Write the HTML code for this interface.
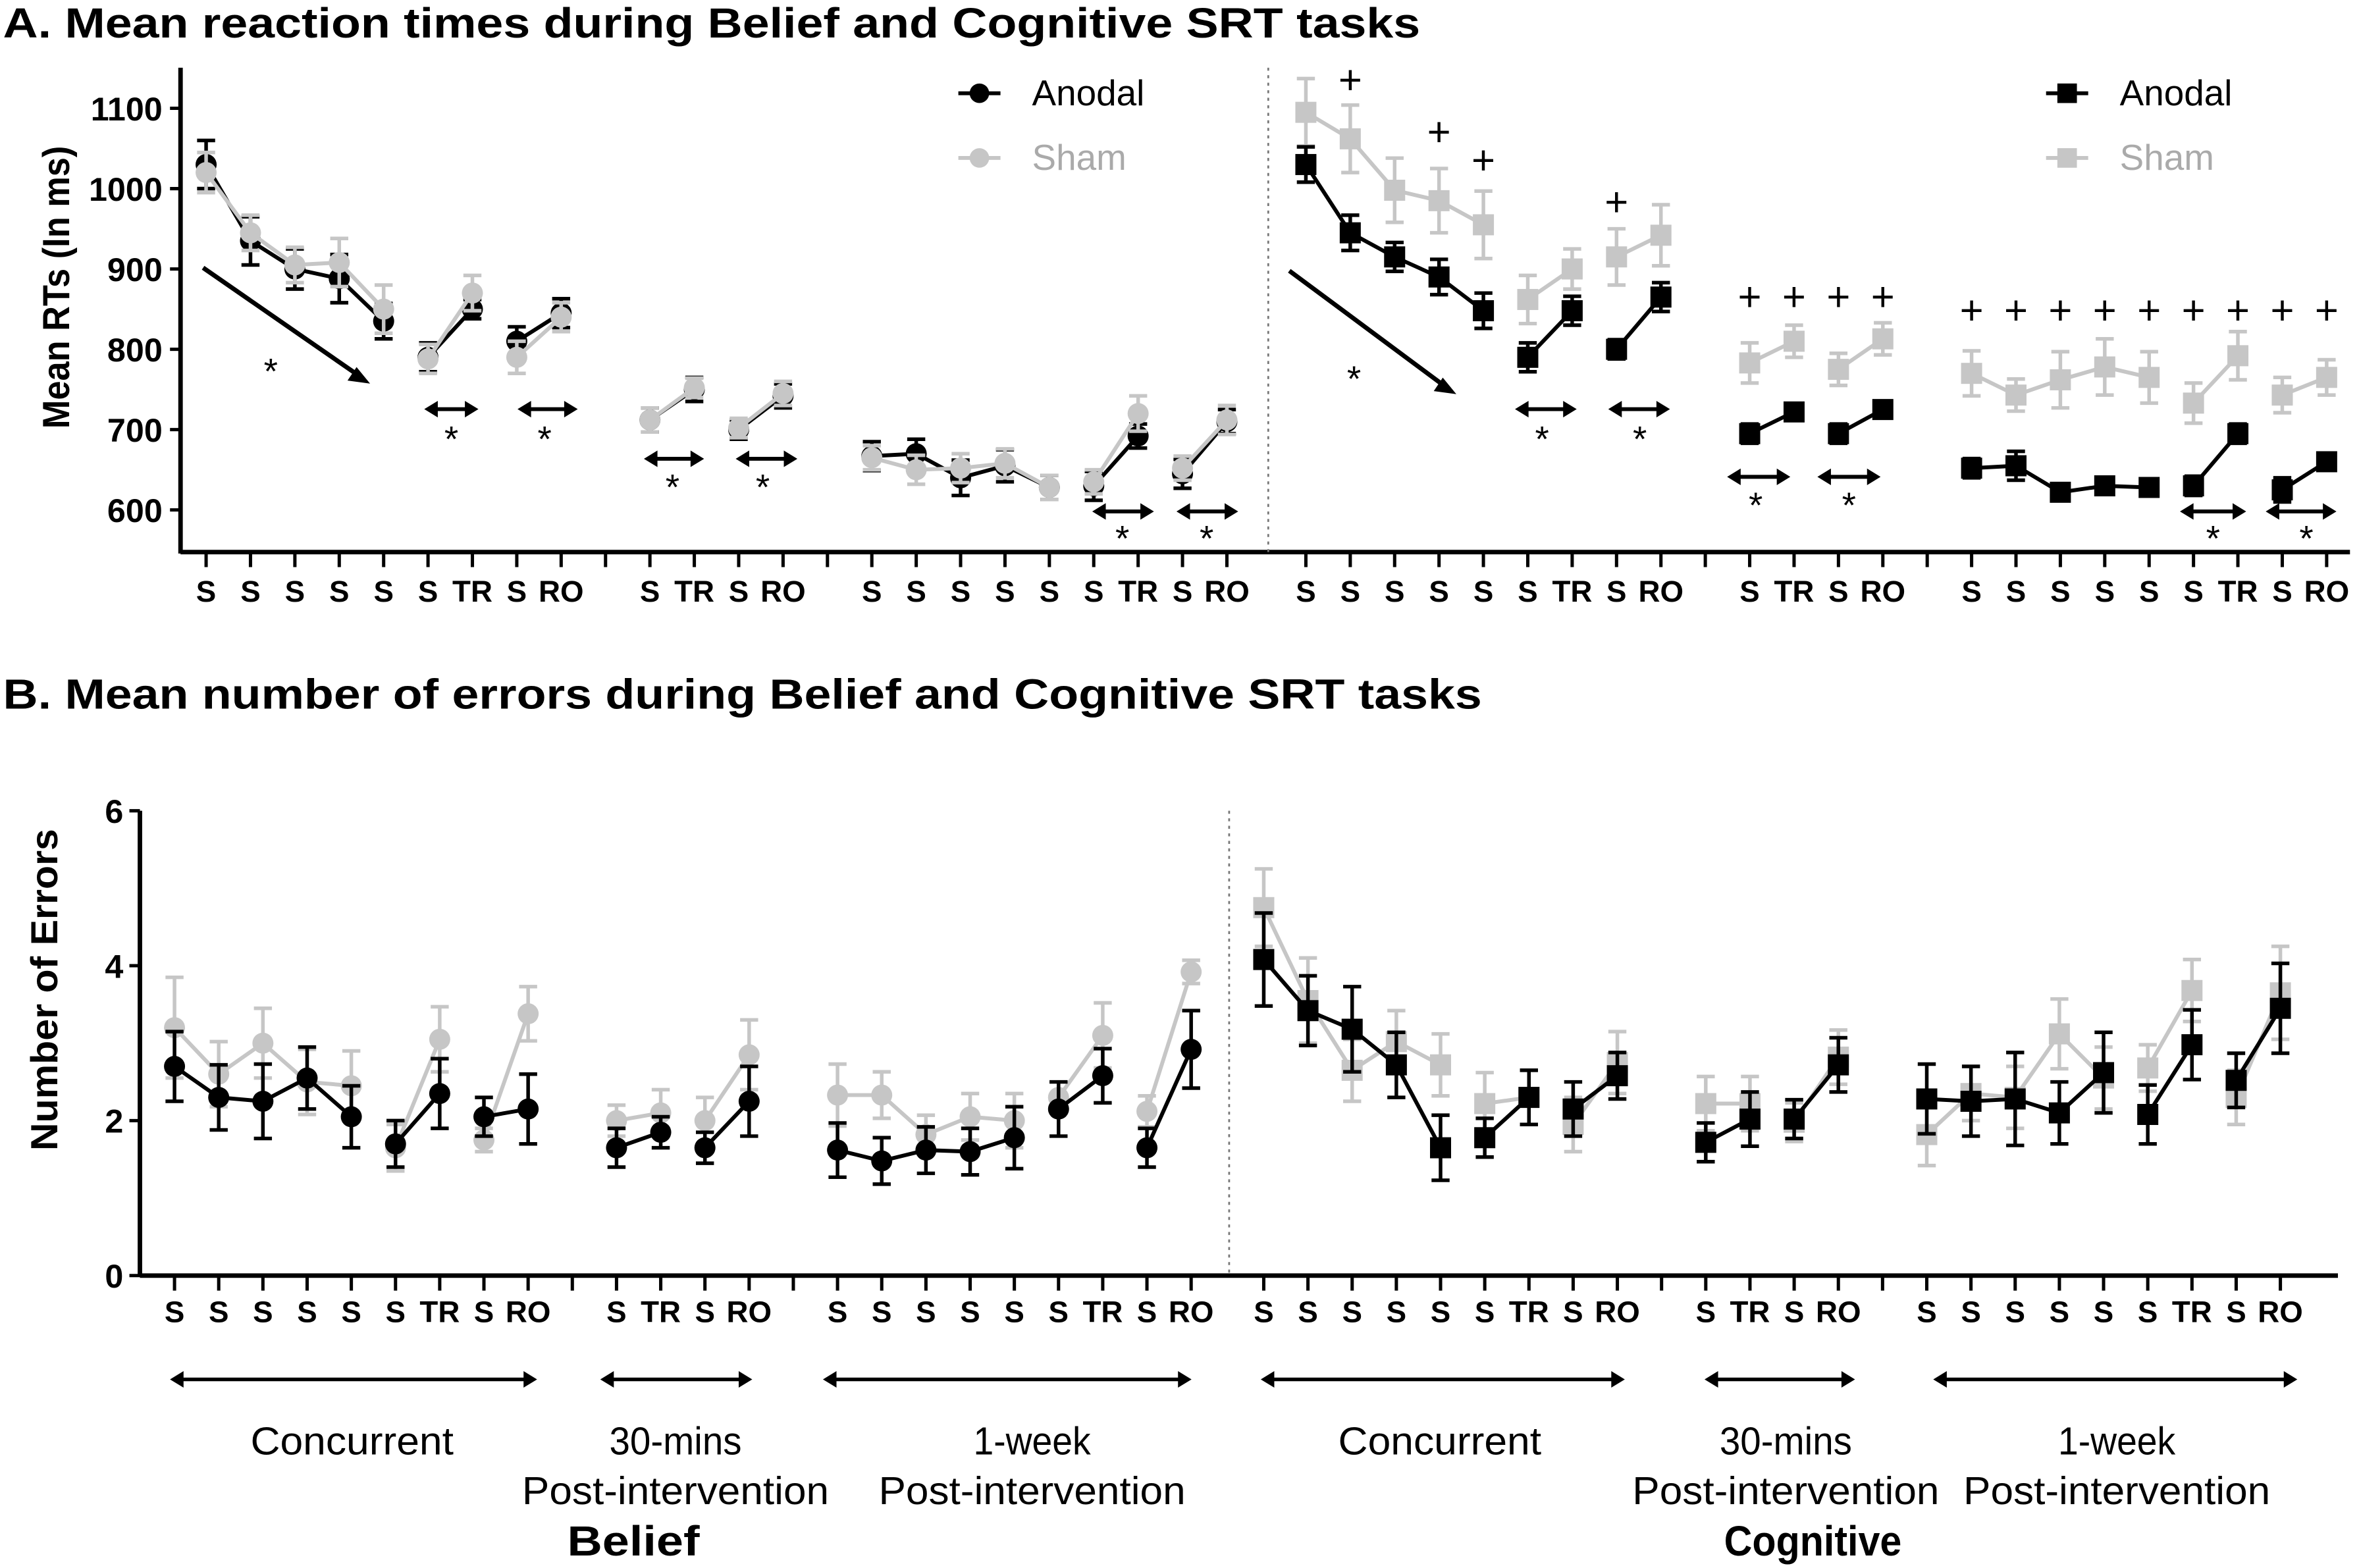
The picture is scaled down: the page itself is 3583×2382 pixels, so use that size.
<!DOCTYPE html>
<html><head><meta charset="utf-8">
<style>
html,body{margin:0;padding:0;background:#fff;}
svg{display:block;}
text{font-family:"Liberation Sans",Arial,sans-serif;}
</style></head>
<body>
<svg id="fig" width="3583" height="2382" viewBox="0 0 1568 1042.4" preserveAspectRatio="none" xmlns="http://www.w3.org/2000/svg">
<rect width="1568" height="1042.4" fill="#fff"/>
<text x="2" y="25" font-size="28" font-weight="bold" textLength="942" lengthAdjust="spacingAndGlyphs">A.  Mean reaction times during Belief and Cognitive SRT tasks</text>
<text x="2" y="471" font-size="28" font-weight="bold" textLength="983" lengthAdjust="spacingAndGlyphs">B.  Mean number of errors during Belief and Cognitive SRT tasks</text>
<text transform="translate(46,191) rotate(-90)" text-anchor="middle" font-size="25" font-weight="bold" textLength="188" lengthAdjust="spacingAndGlyphs">Mean RTs (In ms)</text>
<text transform="translate(38,658) rotate(-90)" text-anchor="middle" font-size="25" font-weight="bold" textLength="214" lengthAdjust="spacingAndGlyphs">Number of Errors</text>
<g id="gA"></g>
<g id="gB"></g>
<g id="gBottom"></g>
</svg>
<script>
// ---- data ----
const tickLabels = ["S","S","S","S","S","S","TR","S","RO","","S","TR","S","RO","","S","S","S","S","S","S","TR","S","RO"];
const segments = [[0,1,2,3,4],[5,6],[7,8],[10,11],[12,13],[15,16,17,18,19],[20,21],[22,23]];
const pointIdx = [0,1,2,3,4,5,6,7,8,10,11,12,13,15,16,17,18,19,20,21,22,23];
const rtTicks = [600,700,800,900,1000,1100];
const errTicks = [0,2,4,6];
// Panel A RT (ms)
const rtBeliefAnodal = [1030,935,900,888,835,790,850,810,845,712,750,700,742,667,670,640,655,628,630,692,645,710];
const rtBeliefAnodalErr = [30,30,25,30,22,18,12,18,18,15,15,12,15,18,18,22,20,15,18,15,18,15];
const rtBeliefSham = [1020,945,905,908,850,788,870,790,840,712,752,702,745,665,650,652,658,628,635,720,652,712];
const rtBeliefShamErr = [25,22,22,30,30,18,22,20,18,15,12,12,15,15,18,18,18,15,15,22,15,18];
const rtCogAnodal = [1030,945,915,890,848,790,848,800,865,695,722,695,725,652,655,622,630,628,630,695,625,660];
const rtCogAnodalErr = [22,22,18,22,22,18,18,12,18,12,10,12,10,12,18,10,10,10,12,12,15,10];
const rtCogSham = [1095,1062,998,985,955,862,900,915,942,783,810,775,813,770,743,762,778,765,733,792,743,765];
const rtCogShamErr = [42,42,40,40,42,30,25,35,38,25,20,20,20,28,20,35,35,32,25,30,22,22];
// Panel B errors
const erBeliefAnodal = [2.7,2.3,2.25,2.55,2.05,1.7,2.35,2.05,2.15,1.65,1.85,1.65,2.25,1.62,1.48,1.62,1.6,1.78,2.15,2.58,1.65,2.92];
const erBeliefAnodalErr = [0.45,0.42,0.48,0.4,0.4,0.3,0.45,0.25,0.45,0.25,0.2,0.2,0.45,0.35,0.3,0.3,0.3,0.4,0.35,0.35,0.25,0.5];
const erBeliefSham = [3.2,2.6,3.0,2.5,2.45,1.65,3.05,1.75,3.38,2.0,2.1,2.0,2.85,2.33,2.33,1.82,2.05,2.0,2.3,3.1,2.12,3.92];
const erBeliefShamErr = [0.65,0.42,0.45,0.42,0.45,0.3,0.42,0.15,0.35,0.2,0.3,0.3,0.45,0.4,0.3,0.25,0.3,0.35,0.2,0.42,0.2,0.15];
const erCogAnodal = [4.08,3.42,3.18,2.72,1.65,1.78,2.3,2.15,2.58,1.72,2.02,2.02,2.72,2.28,2.25,2.28,2.1,2.62,2.08,2.98,2.52,3.45];
const erCogAnodalErr = [0.6,0.45,0.55,0.42,0.42,0.25,0.35,0.35,0.3,0.25,0.35,0.25,0.35,0.45,0.45,0.6,0.4,0.52,0.38,0.45,0.35,0.58];
const erCogSham = [4.75,3.55,2.65,3.02,2.72,2.22,2.3,1.95,2.75,2.22,2.22,1.98,2.82,1.82,2.35,2.3,3.12,2.55,2.68,3.68,2.3,3.65];
const erCogShamErr = [0.5,0.55,0.4,0.4,0.4,0.4,0.35,0.35,0.4,0.35,0.35,0.25,0.35,0.4,0.35,0.4,0.45,0.4,0.3,0.4,0.35,0.6];
// significance plus markers (cognitive RT, index in half, RT value of plus)
const plusIdx = [1,3,4,7,10,11,12,13,15,16,17,18,19,20,21,22,23];
const plusVal = [1135,1070,1035,983,865,865,865,865,848,848,848,848,848,848,848,848,848];

const NS="http://www.w3.org/2000/svg";
function mk(parent,tag,attrs,txt){const e=document.createElementNS(NS,tag);for(const k in attrs)e.setAttribute(k,attrs[k]);if(txt!==undefined)e.textContent=txt;parent.appendChild(e);return e;}
const GRAY="#c6c6c6";

const xA=(h,i)=>(h===0?137:868)+i*29.5;
const yA=v=>72+(1100-v)*0.534;
const xB=(h,i)=>(h===0?116:840)+i*29.38;
const yB=v=>848-v*51.5;

function marker(g,x,y,shape,color,size){
  if(shape==='c') return mk(g,'circle',{cx:x,cy:y,r:size,fill:color});
  return mk(g,'rect',{x:x-size,y:y-size,width:size*2,height:size*2,fill:color});
}
function drawSeries(g,xf,yf,h,vals,errs,shape,color,name,msize){
  const sg=mk(g,'g',{});
  
  
  const posOf={};pointIdx.forEach((ix,k)=>posOf[ix]=k);
  segments.forEach(seg=>{
    const pts=seg.map(ix=>xf(h,ix)+','+yf(vals[posOf[ix]])).join(' ');
    const l=mk(sg,'polyline',{points:pts,fill:'none',stroke:color,'stroke-width':2.6});
    
    
  });
  pointIdx.forEach((ix,k)=>{
    const x=xf(h,ix),v=vals[k],e=errs[k];
    const y1=yf(v+e),y2=yf(v-e);
    const eb=mk(sg,'path',{d:`M${x},${y1}V${y2}M${x-6},${y1}H${x+6}M${x-6},${y2}H${x+6}`,stroke:color,'stroke-width':2.4,fill:'none'});
    
    
    const m=marker(sg,x,yf(v),shape,color,msize);
    
    
  });
}
function xAxis(g,x0,x1,y,xf,ly){
  mk(g,'line',{x1:x0,y1:y,x2:x1,y2:y,stroke:'#000','stroke-width':3});
  for(let h=0;h<2;h++){
    for(let i=0;i<24;i++){
      const x=xf(h,i);
      mk(g,'line',{x1:x,y1:y,x2:x,y2:y+10,stroke:'#000','stroke-width':2.2});
      if(tickLabels[i]){
        const t=mk(g,'text',{x:x,y:ly,'text-anchor':'middle','font-size':20,'font-weight':'bold'},tickLabels[i]);
        
        
      }
    }
  }
}
function dblArrow(g,x1,x2,y,w){
  w=w||2.6;
  mk(g,'line',{x1:x1+6,y1:y,x2:x2-6,y2:y,stroke:'#000','stroke-width':w});
  mk(g,'path',{d:`M${x1},${y}l9,-5.5v11z M${x2},${y}l-9,-5.5v11z`,fill:'#000'});
}
function star(g,x,y){const t=mk(g,'text',{x:x,y:y,'text-anchor':'middle','font-size':24},'*');}

// ---- Panel A ----
const gA=document.getElementById('gA');
mk(gA,'line',{x1:120,y1:45,x2:120,y2:368,stroke:'#000','stroke-width':3});
rtTicks.forEach(v=>{
  mk(gA,'line',{x1:113,y1:yA(v),x2:120,y2:yA(v),stroke:'#000','stroke-width':2.2});
  const t=mk(gA,'text',{x:108,y:yA(v)+8,'text-anchor':'end','font-size':22,'font-weight':'bold'},v);
  
  
});
xAxis(gA,120,1562,367,xA,400);
mk(gA,'line',{x1:843,y1:45,x2:843,y2:367,stroke:'#777','stroke-width':1.2,'stroke-dasharray':'2,3'});
drawSeries(gA,xA,yA,0,rtBeliefAnodal,rtBeliefAnodalErr,'c','#000','belief-anodal-rt',7);
drawSeries(gA,xA,yA,0,rtBeliefSham,rtBeliefShamErr,'c',GRAY,'belief-sham-rt',7);
drawSeries(gA,xA,yA,1,rtCogSham,rtCogShamErr,'s',GRAY,'cognitive-sham-rt',7);
drawSeries(gA,xA,yA,1,rtCogAnodal,rtCogAnodalErr,'s','#000','cognitive-anodal-rt',7);
plusIdx.forEach((ix,k)=>{const t=mk(gA,'text',{x:xA(1,ix),y:yA(plusVal[k])+9,'text-anchor':'middle','font-size':27},'+');});
mk(gA,'line',{x1:135,y1:178,x2:236,y2:248,stroke:'#000','stroke-width':3});
mk(gA,'path',{d:'M246,255 l-15,-2 l6,-9z',fill:'#000'});
star(gA,180,255);
mk(gA,'line',{x1:857,y1:180,x2:958,y2:255,stroke:'#000','stroke-width':3});
mk(gA,'path',{d:'M968,262 l-15,-2 l6,-9z',fill:'#000'});
star(gA,900,260);
[[282,318,272,300,300],[344,384,272,362,300],[428,468,305,447,332],[489,530,305,507,332],[726,767,340,746,366],[782,823,340,802,366],
 [1007,1048,272,1025,300],[1069,1110,272,1090,300],[1148,1190,317,1167,344],[1208,1250,317,1229,344],[1449,1493,340,1471,366],[1506,1553,340,1533,366]]
 .forEach(a=>{dblArrow(gA,a[0],a[1],a[2]);star(gA,a[3],a[4]);});
function legend(g,x,y,shape,color,label){
  const lg=mk(g,'g',{});
  
  
  mk(lg,'line',{x1:x,y1:y,x2:x+28,y2:y,stroke:color,'stroke-width':2.6});
  marker(lg,x+14,y,shape,color,6.5);
  mk(lg,'text',{x:x+49,y:y+8,'font-size':24,fill:color==='#000'?'#000':'#aaaaaa'},label);
}
legend(gA,637,62,'c','#000','Anodal');
legend(gA,637,105,'c',GRAY,'Sham');
legend(gA,1360,62,'s','#000','Anodal');
legend(gA,1360,105,'s',GRAY,'Sham');

// ---- Panel B ----
const gB=document.getElementById('gB');
mk(gB,'line',{x1:93,y1:539,x2:93,y2:849,stroke:'#000','stroke-width':3});
errTicks.forEach(v=>{
  mk(gB,'line',{x1:86,y1:yB(v),x2:93,y2:yB(v),stroke:'#000','stroke-width':2.2});
  const t=mk(gB,'text',{x:82,y:yB(v)+8,'text-anchor':'end','font-size':22,'font-weight':'bold'},v);
  
  
});
xAxis(gB,93,1554,848,xB,879);
mk(gB,'line',{x1:817,y1:539,x2:817,y2:848,stroke:'#777','stroke-width':1.2,'stroke-dasharray':'2,3'});
drawSeries(gB,xB,yB,0,erBeliefSham,erBeliefShamErr,'c',GRAY,'belief-sham-errors',7);
drawSeries(gB,xB,yB,0,erBeliefAnodal,erBeliefAnodalErr,'c','#000','belief-anodal-errors',7);
drawSeries(gB,xB,yB,1,erCogSham,erCogShamErr,'s',GRAY,'cognitive-sham-errors',7);
drawSeries(gB,xB,yB,1,erCogAnodal,erCogAnodalErr,'s','#000','cognitive-anodal-errors',7);

// ---- bottom group labels ----
const gBt=document.getElementById('gBottom');
[[113,357],[399,500],[547,792],[838,1080],[1133,1233],[1285,1527]].forEach(a=>dblArrow(gBt,a[0],a[1],917,2.4));
const lbl=[[234,967,'Concurrent',135],[449,967,'30-mins',88],[449,1000,'Post-intervention',204],[686,967,'1-week',78],[686,1000,'Post-intervention',204],
 [957,967,'Concurrent',135],[1187,967,'30-mins',88],[1187,1000,'Post-intervention',204],[1407,967,'1-week',78],[1407,1000,'Post-intervention',204]];
lbl.forEach(l=>{const t=mk(gBt,'text',{x:l[0],y:l[1],'text-anchor':'middle','font-size':26,textLength:l[3],lengthAdjust:'spacingAndGlyphs'},l[2]);});
let t1=mk(gBt,'text',{x:421,y:1034,'text-anchor':'middle','font-size':28,'font-weight':'bold',textLength:88,lengthAdjust:'spacingAndGlyphs'},'Belief');


let t2=mk(gBt,'text',{x:1205,y:1034,'text-anchor':'middle','font-size':28,'font-weight':'bold',textLength:118,lengthAdjust:'spacingAndGlyphs'},'Cognitive');


</script>
</body></html>
